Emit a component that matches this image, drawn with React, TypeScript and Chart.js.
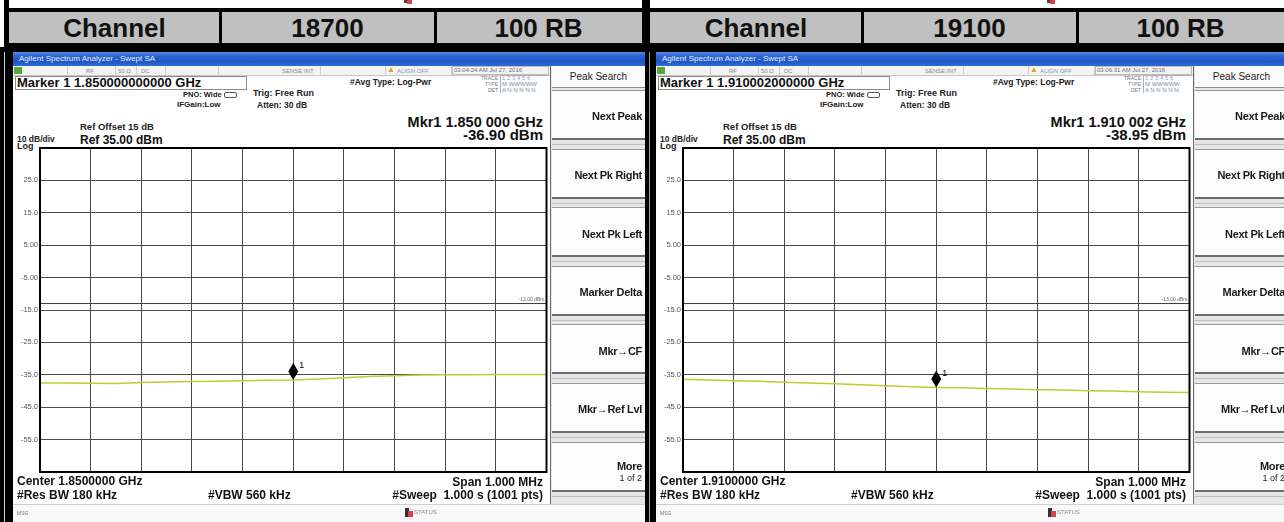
import React, { useEffect, useRef } from 'react';
import { Chart, registerables } from 'chart.js';

Chart.register(...registerables);

const FONT = '"Liberation Sans", Arial, Helvetica, sans-serif';
Chart.defaults.font.family = FONT;

// ---------------- data ----------------
const freqOffsetsKHz = [-500, -450, -400, -350, -300, -250, -200, -150, -100, -50, 0, 50, 100, 150, 200, 250, 300, 350, 400, 450, 500];
const traceCh18700 = [-37.5, -37.5, -37.6, -37.7, -37.4, -37.2, -37.1, -37.0, -36.8, -36.7, -36.6, -36.3, -35.9, -35.5, -35.3, -35.1, -35.0, -35.0, -34.9, -34.9, -34.9];
const traceCh19100 = [-36.4, -36.6, -36.8, -37.0, -37.3, -37.5, -37.8, -38.1, -38.4, -38.7, -38.95, -39.0, -39.2, -39.4, -39.6, -39.7, -39.9, -40.0, -40.2, -40.4, -40.5];
const markerOffsetKHz = [0, 0];
const limitLineDbm = -13;
const yGridDbm = [35, 25, 15, 5, -5, -15, -25, -35, -45, -55, -65];
const yTickLabels = ['', '25.0', '15.0', '5.00', '-5.00', '-15.0', '-25.0', '-35.0', '-45.0', '-55.0', ''];
const xGridKHz = [-500, -400, -300, -200, -100, 0, 100, 200, 300, 400, 500];

const channelNumbers = ['18700', '19100'];
const bandwidthLabels = ['100 RB', '100 RB'];
const markerFreqLabels = ['1.850000000000 GHz', '1.910002000000 GHz'];
const mkrReadFreq = ['1.850 000 GHz', '1.910 002 GHz'];
const mkrReadLevel = ['-36.90 dBm', '-38.95 dBm'];
const centerFreqLabels = ['1.8500000 GHz', '1.9100000 GHz'];
const timestampLabels = ['03:04:24 AM Jul 27, 2016', '03:06:31 AM Jul 27, 2016'];
const softkeyLabels = ['Next Peak', 'Next Pk Right', 'Next Pk Left', 'Marker Delta', 'Mkr\u2192CF', 'Mkr\u2192Ref Lvl', 'More'];
const traces = [traceCh18700, traceCh19100];

const TRACE_COLOR = '#c2cb30';

// ---------------- helpers ----------------
type BoxP = { x: number; y: number; w: number; h: number; bg?: string; style?: React.CSSProperties };
function Box({ x, y, w, h, bg, style }: BoxP) {
  return <div style={{ position: 'absolute', left: x, top: y, width: w, height: h, background: bg, boxSizing: 'border-box', ...style }} />;
}

type TP = { x: number; cy: number; size: number; bold?: boolean; right?: boolean; center?: boolean; color?: string; ls?: number; children: React.ReactNode };
function T({ x, cy, size, bold, right, center, color = '#111', ls = 0, children }: TP) {
  const style: React.CSSProperties = {
    position: 'absolute',
    top: cy - size * 0.49,
    fontSize: size,
    lineHeight: `${size}px`,
    fontWeight: bold ? 700 : 400,
    color,
    whiteSpace: 'pre',
    fontFamily: FONT,
    letterSpacing: ls,
  };
  if (right) {
    style.left = x - 400;
    style.width = 400;
    style.textAlign = 'right';
  } else if (center) {
    style.left = x - 200;
    style.width = 400;
    style.textAlign = 'center';
  } else {
    style.left = x;
  }
  return <div style={style}>{children}</div>;
}

// ---------------- chart ----------------
function SpectrumChart({ sx, trace, markerKHz }: { sx: number; trace: number[]; markerKHz: number }) {
  const ref = useRef<HTMLCanvasElement>(null);
  useEffect(() => {
    const markerIdx = freqOffsetsKHz.indexOf(markerKHz);
    const overlay = {
      id: 'saOverlay',
      afterDatasetsDraw(chart: any) {
        const ctx = chart.ctx as CanvasRenderingContext2D;
        const ca = chart.chartArea;
        const ys = chart.scales.y;
        ctx.save();
        // limit label
        const yl = ys.getPixelForValue(limitLineDbm);
        ctx.font = `5px ${FONT}`;
        ctx.fillStyle = '#666';
        ctx.textAlign = 'right';
        ctx.textBaseline = 'alphabetic';
        ctx.fillText('-13.00 dBm', ca.right - 2, yl - 2.5);
        // marker diamond
        const pt = chart.getDatasetMeta(0).data[markerIdx];
        if (pt) {
          const x = pt.x;
          const yb = pt.y;
          ctx.fillStyle = '#000';
          ctx.beginPath();
          ctx.moveTo(x, yb);
          ctx.lineTo(x + 5, yb - 8.5);
          ctx.lineTo(x, yb - 17);
          ctx.lineTo(x - 5, yb - 8.5);
          ctx.closePath();
          ctx.fill();
          ctx.font = `9px ${FONT}`;
          ctx.textAlign = 'left';
          ctx.fillText('1', x + 6, yb - 12);
        }
        // plot frame
        ctx.strokeStyle = '#000';
        ctx.lineWidth = 2;
        ctx.strokeRect(ca.left, ca.top, ca.right - ca.left, ca.bottom - ca.top);
        ctx.restore();
      },
    };
    const chart = new Chart(ref.current as HTMLCanvasElement, {
      type: 'line',
      data: {
        datasets: [
          {
            data: freqOffsetsKHz.map((f, i) => ({ x: f, y: trace[i] })),
            borderColor: TRACE_COLOR,
            borderWidth: 1.5,
            pointRadius: 0,
            tension: 0,
          },
          {
            data: [
              { x: freqOffsetsKHz[0], y: limitLineDbm },
              { x: freqOffsetsKHz[freqOffsetsKHz.length - 1], y: limitLineDbm },
            ],
            borderColor: '#3c3c3c',
            borderWidth: 1,
            pointRadius: 0,
          },
        ],
      },
      options: {
        animation: false,
        responsive: false,
        events: [],
        layout: { padding: { left: 0, right: 3.5, top: 8, bottom: 8 } },
        plugins: { legend: { display: false }, tooltip: { enabled: false } },
        scales: {
          x: {
            type: 'linear',
            min: xGridKHz[0],
            max: xGridKHz[xGridKHz.length - 1],
            afterBuildTicks: (s: any) => {
              s.ticks = xGridKHz.map((v) => ({ value: v }));
            },
            afterFit: (s: any) => {
              s.height = 0;
            },
            ticks: { display: false },
            grid: { color: '#4a4a4a', lineWidth: 1, drawTicks: false },
            border: { display: false },
          },
          y: {
            type: 'linear',
            min: yGridDbm[yGridDbm.length - 1],
            max: yGridDbm[0],
            afterBuildTicks: (s: any) => {
              s.ticks = yGridDbm.map((v) => ({ value: v }));
            },
            afterFit: (s: any) => {
              s.width = 30;
            },
            ticks: {
              autoSkip: false,
              padding: 2,
              color: '#555',
              font: { size: 7.5, family: FONT },
              callback: (v: any) => yTickLabels[yGridDbm.indexOf(Number(v))] ?? '',
            },
            grid: { color: '#4a4a4a', lineWidth: 1, drawTicks: false },
            border: { display: false },
          },
        },
      } as any,
      plugins: [overlay],
    });
    return () => chart.destroy();
  }, [trace, markerKHz]);
  return (
    <canvas
      ref={ref}
      width={540}
      height={340}
      style={{ position: 'absolute', left: 10 + sx, top: 140, width: 540, height: 340 }}
    />
  );
}

// ---------------- screen ----------------
function Softkeys({ sx }: { sx: number }) {
  const X = (x: number) => x + sx;
  return (
    <>
      <Box x={X(550)} y={66} w={95} h={439} bg="#e6e6e6" style={{ borderLeft: '1.5px solid #6a6a6a' }} />
      <Box x={X(552)} y={66} w={93} h={22} bg="#fbfbfb" style={{ borderBottom: '1px solid #8a8a8a' }} />
      <T x={X(598.5)} cy={77.3} size={10} center color="#222">Peak Search</T>
      {softkeyLabels.map((lab, i) => {
        const top = 90 + i * 58.6;
        const isMore = i === softkeyLabels.length - 1;
        return (
          <React.Fragment key={lab}>
            <Box x={X(552)} y={top} w={93} h={50} bg="#fcfcfc" style={{ borderTop: '1px solid #9a9a9a', borderBottom: '2px solid #6c6c6c' }} />
            <Box x={X(552)} y={top + 54} w={93} h={1} bg="#bdbdbd" />
            <T x={X(642)} cy={isMore ? top + 25 : top + 26.7} size={11} bold right ls={-0.3} color="#1a1a1a">{lab}</T>
            {isMore && <T x={X(642)} cy={top + 36.6} size={9} right color="#222">1 of 2</T>}
          </React.Fragment>
        );
      })}
    </>
  );
}

function Screen({ sx, i }: { sx: number; i: number }) {
  const X = (x: number) => x + sx;
  const statusDividers = [67, 115, 136, 165, 218, 320, 385, 451];
  return (
    <>
      <Box x={X(13)} y={52} w={632} h={470} bg="#fff" />
      <Box
        x={X(13)}
        y={52}
        w={632}
        h={14}
        style={{ background: 'linear-gradient(to bottom, #4f8ae6 0%, #2a63cf 30%, #1f57c3 70%, #2f6cd6 100%)' }}
      />
      <T x={X(19)} cy={58.8} size={8} color="#e4ecff">Agilent Spectrum Analyzer - Swept SA</T>

      {/* status row */}
      <Box x={X(13)} y={66} w={537} h={10} bg="#f3f3f3" style={{ borderBottom: '1px solid #c8c8c8' }} />
      {statusDividers.map((d) => (
        <Box key={d} x={X(d)} y={66} w={1} h={10} bg="#cdcdcd" />
      ))}
      <Box x={X(14)} y={66.5} w={8} h={7} bg="#5aa63a" />
      <T x={X(86)} cy={70.5} size={6} color="#8a8a8a">RF</T>
      <T x={X(118)} cy={70.5} size={6} color="#8a8a8a">50 Ω</T>
      <T x={X(141)} cy={70.5} size={6} color="#8a8a8a">DC</T>
      <T x={X(282)} cy={70.5} size={6} color="#8a8a8a">SENSE:INT</T>
      <T x={X(387)} cy={70.3} size={8} color="#d8a800">▲</T>
      <T x={X(397)} cy={70.5} size={6} color="#8796b8">ALIGN OFF</T>
      <Box x={X(452)} y={66} w={97} h={9} style={{ border: '1px solid #bdbdbd' }} />
      <T x={X(454)} cy={70.3} size={6} color="#707070">{timestampLabels[i]}</T>

      {/* marker header */}
      <Box x={X(15)} y={76} w={232} h={14} style={{ border: '1px solid #8a8a8a' }} />
      <T x={X(17)} cy={82.3} size={13} bold>{`Marker 1 ${markerFreqLabels[i]}`}</T>
      <T x={X(183)} cy={94.3} size={7.5} bold color="#222">PNO: Wide</T>
      <Box x={X(224)} y={91.5} w={13} h={6} style={{ border: '1px solid #555', borderRadius: 2 }} />
      <T x={X(177)} cy={104.5} size={8} bold color="#222">IFGain:Low</T>
      <T x={X(253)} cy={93.5} size={9} bold color="#222">Trig: Free Run</T>
      <T x={X(257)} cy={105.5} size={8.5} bold color="#222">Atten: 30 dB</T>
      <T x={X(350)} cy={81.8} size={8.5} bold color="#222">#Avg Type: Log-Pwr</T>

      {/* trace block */}
      <Box x={X(500)} y={75} w={48} h={18} style={{ borderLeft: '1px solid #b0b0b0', borderTop: '1px solid #b0b0b0' }} />
      <T x={X(498)} cy={78.3} size={5} right color="#777">TRACE</T>
      <T x={X(502)} cy={78.3} size={6} color="#8da0c0">1 2 3 4 5 6</T>
      <T x={X(498)} cy={84.3} size={5} right color="#777">TYPE</T>
      <T x={X(502)} cy={84.3} size={6} color="#7a8aa8">M WWWWW</T>
      <T x={X(498)} cy={90.3} size={5} right color="#777">DET</T>
      <T x={X(502)} cy={90.3} size={6} color="#7a8aa8">A N N N N N</T>

      <T x={X(543)} cy={121.7} size={14.5} bold right>{`Mkr1 ${mkrReadFreq[i]}`}</T>
      <T x={X(543)} cy={134.3} size={15} bold right>{mkrReadLevel[i]}</T>

      <T x={X(80)} cy={126.7} size={9.5} bold color="#222">Ref Offset 15 dB</T>
      <T x={X(17)} cy={139.5} size={8.5} bold color="#222">10 dB/div</T>
      <T x={X(80)} cy={139.5} size={12} bold>Ref 35.00 dBm</T>
      <T x={X(17)} cy={146.5} size={9} bold color="#222">Log</T>

      <SpectrumChart sx={sx} trace={traces[i]} markerKHz={markerOffsetKHz[i]} />

      {/* bottom annotations */}
      <T x={X(17)} cy={481} size={12} bold>{`Center ${centerFreqLabels[i]}`}</T>
      <T x={X(17)} cy={495} size={12} bold>#Res BW 180 kHz</T>
      <T x={X(208)} cy={495} size={12} bold>#VBW 560 kHz</T>
      <T x={X(543)} cy={481.7} size={12} bold right>Span 1.000 MHz</T>
      <T x={X(543)} cy={495} size={12} bold right>{'#Sweep  1.000 s (1001 pts)'}</T>

      <Softkeys sx={sx} />

      {/* message bar */}
      <Box x={X(13)} y={504} w={632} h={18} bg="#f8f8f8" style={{ borderTop: '1px solid #cfcfcf' }} />
      <T x={X(17)} cy={513.5} size={5} color="#777">MSG</T>
      <Box x={X(405)} y={508} w={4} h={9} bg="#333" />
      <Box x={X(408)} y={511} w={5} h={6} bg="#d8404a" />
      <T x={X(414)} cy={512} size={6} color="#8a8a8a">STATUS</T>
    </>
  );
}

function HeaderRow({ x0, x1, d1, d2, i }: { x0: number; x1: number; d1: number; d2: number; i: number }) {
  return (
    <>
      <Box x={d1 - 1.5} y={12} w={3} h={31} bg="#000" />
      <Box x={d2 - 1.5} y={12} w={3} h={31} bg="#000" />
      <T x={(x0 + d1) / 2} cy={27.5} size={26} bold center color="#111">Channel</T>
      <T x={(d1 + d2) / 2} cy={27.5} size={26} bold center color="#111">{channelNumbers[i]}</T>
      <T x={(d2 + x1) / 2} cy={27.5} size={26} bold center color="#111">{bandwidthLabels[i]}</T>
    </>
  );
}

export default function App() {
  return (
    <div
      style={{
        position: 'fixed',
        left: 0,
        top: 0,
        width: 1284,
        height: 522,
        overflow: 'hidden',
        background: '#fff',
        fontFamily: FONT,
      }}
    >
      {/* remnants of previous screenshots */}
      <Box x={404} y={0} w={4} h={3} bg="#444" />
      <Box x={407} y={0} w={5} h={4} bg="#d8404a" />
      <Box x={1047} y={0} w={4} h={3} bg="#444" />
      <Box x={1050} y={0} w={5} h={4} bg="#d8404a" />

      {/* header table */}
      <Box x={4} y={0} w={5} h={47} bg="#000" />
      <Box x={642} y={0} w={8} h={47} bg="#000" />
      <Box x={4} y={8} w={1280} h={4} bg="#000" />
      <Box x={9} y={12} w={633} h={31} bg="#c0c0c0" />
      <Box x={650} y={12} w={634} h={31} bg="#c0c0c0" />
      <Box x={4} y={43} w={1280} h={4} bg="#000" />
      <HeaderRow x0={9} x1={642} d1={220} d2={435} i={0} />
      <HeaderRow x0={650} x1={1284} d1={862} d2={1077} i={1} />

      {/* screenshot frames */}
      <Box x={0} y={47} w={1284} h={475} bg="#000" />
      <Box x={4} y={52} w={1} h={470} bg="#d0d0d0" />
      <Box x={649} y={52} w={1} h={470} bg="#a0a0a0" />

      <Screen sx={0} i={0} />
      <Screen sx={643} i={1} />
    </div>
  );
}
